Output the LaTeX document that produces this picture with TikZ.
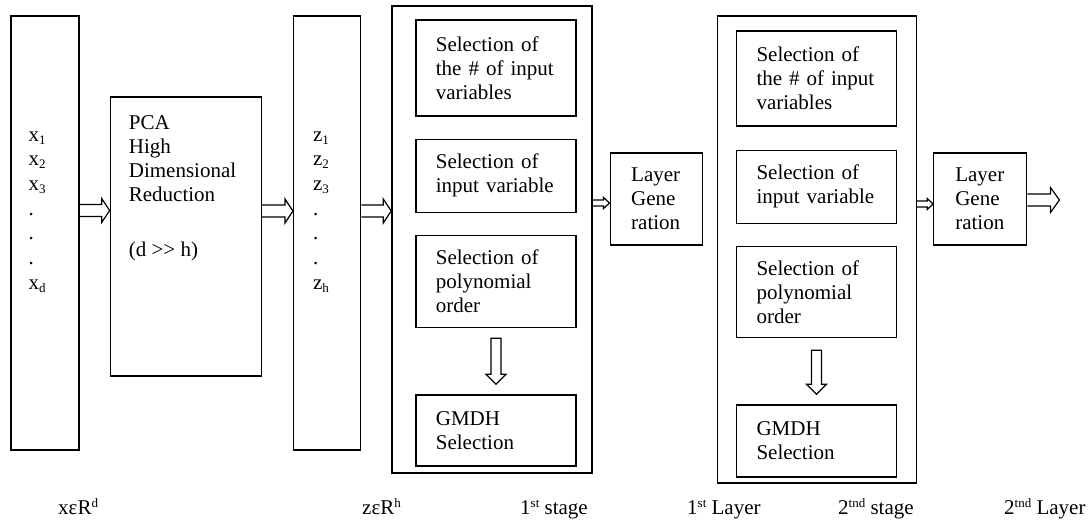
\documentclass[tikz,border=0pt]{standalone}
\usepackage{fontspec}
\setmainfont{Liberation Serif}
\usetikzlibrary{positioning}
\usetikzlibrary{calc}
\newcommand{\lowidx}[1]{\raisebox{-3pt}{\fontsize{13}{13}\selectfont #1}}
\newcommand{\highidx}[1]{\raisebox{7pt}{\fontsize{13}{13}\selectfont #1}}
% hollow block arrows: from, to, shaft half width, head half width, head length
\newcommand{\rightblock}[5]{%
  \draw[hollow] let \p1=#1, \p2=#2 in
    (\x1,\y1-#3) -- (\x2-#5,\y1-#3) -- (\x2-#5,\y1-#4) -- (\x2,\y1)
    -- (\x2-#5,\y1+#4) -- (\x2-#5,\y1+#3) -- (\x1,\y1+#3);}
\newcommand{\downblock}[5]{%
  \draw[hollow] let \p1=#1, \p2=#2 in
    (\x1-#3,\y1) -- (\x1-#3,\y2+#5) -- (\x1-#4,\y2+#5) -- (\x1,\y2)
    -- (\x1+#4,\y2+#5) -- (\x1+#3,\y2+#5) -- (\x1+#3,\y1) -- cycle;}
\tikzset{
    block/.style={
           rectangle,
           draw=black, line width=1.3pt,
           inner sep=0pt,
           },
    selbox/.style={
           rectangle,
           draw=black, line width=1.3pt,
           minimum width=160pt,
           text width=120pt,
           align=left,
           inner sep=0pt,
           font=\fontsize{21}{24}\selectfont,
           },
    genbox/.style={
           rectangle,
           draw=black, line width=1.3pt,
           minimum width=92pt, minimum height=92pt,
           text width=50pt,
           align=left,
           inner sep=0pt,
           font=\fontsize{21}{24}\selectfont,
           },
    frameless/.style={
           %draw=black,
           inner sep=0pt,
           align=left,
           font=\fontsize{21}{24}\selectfont,
           },
    lbl/.style={
           frameless,
           anchor=base west,
           },
    hollow/.style={
           draw=black, line width=1.2pt,
           },
}

\begin{document}
\begin{tikzpicture}[x=1pt, y=-1pt]
	\useasboundingbox (0,0) rectangle (1091,522);

	\node[block, minimum width=68pt, minimum height=434pt] (xbox) at (45,233) {};
	\node[block, right=30pt of xbox, yshift=-3.5pt, minimum width=151pt, minimum height=279pt] (pca) {};
	\node[block, right=31pt of pca, yshift=3.5pt, minimum width=67pt, minimum height=434pt] (zbox) {};
	\node[block, right=30pt of zbox, yshift=-6.5pt, minimum width=200pt, minimum height=467pt] (stage1) {};
	\node[genbox, right=17pt of stage1, yshift=40.5pt] (gen1) {Layer\\Gene\\ration};
	\node[block, right=14pt of gen1, yshift=-50.5pt, minimum width=199pt, minimum height=467pt] (stage2) {};
	\node[genbox, right=16pt of stage2, yshift=50.5pt, minimum width=93pt] (gen2) {Layer\\Gene\\ration};

	% texts of the tall boxes
	\node[frameless, font=\fontsize{21}{24.7}\selectfont, below right=116pt and 18pt of xbox.north west] (xlist) {
		x\lowidx{1}\\x\lowidx{2}\\x\lowidx{3}\\.\\.\\.\\x\lowidx{d}
	};
	\node[frameless, below right=19pt and 19pt of pca.north west] (pcatext) {
		PCA\\High\\Dimensional\\Reduction\\[31pt](d >{}> h)
	};
	\node[frameless, font=\fontsize{21}{24.7}\selectfont, below right=116pt and 20pt of zbox.north west] (zlist) {
		z\lowidx{1}\\z\lowidx{2}\\z\lowidx{3}\\.\\.\\.\\z\lowidx{h}
	};

	% 1st stage
	\node[selbox, minimum height=96pt, below right=14pt and 24pt of stage1.north west] (s1a) {Selection of\\the \# of input\\variables};
	\node[selbox, minimum height=73pt, below=22pt of s1a] (s1b) {Selection of\\input variable};
	\node[selbox, minimum height=92pt, below=22pt of s1b] (s1c) {Selection of\\polynomial\\order};
	\node[selbox, minimum height=71pt, below=66pt of s1c] (s1d) {GMDH\\Selection};

	% 2nd stage
	\node[selbox, minimum height=95pt, below right=15pt and 19pt of stage2.north west] (s2a) {Selection of\\the \# of input\\variables};
	\node[selbox, minimum height=73pt, below=23pt of s2a] (s2b) {Selection of\\input variable};
	\node[selbox, minimum height=91pt, below=22pt of s2b] (s2c) {Selection of\\polynomial\\order};
	\node[selbox, minimum height=72pt, below=66pt of s2c] (s2d) {GMDH\\Selection};

	\coordinate (out) at ([xshift=32pt, yshift=-1pt]gen2.east);

	\rightblock{([yshift=22.5pt]xbox.east)}{(pca.west)}{6pt}{12pt}{8pt}
	\rightblock{([yshift=25.5pt]pca.east)}{(zbox.west)}{6pt}{12pt}{8pt}
	\rightblock{([yshift=22pt]zbox.east)}{(stage1.west)}{6pt}{12pt}{8pt}
	\rightblock{([yshift=36.5pt]stage1.east)}{(gen1.west)}{3pt}{5.5pt}{6pt}
	\rightblock{([yshift=45.5pt]stage2.east)}{(gen2.west)}{3pt}{5.5pt}{6pt}
	\rightblock{([yshift=-1pt]gen2.east)}{(out)}{6pt}{12.5pt}{9pt}
	\downblock{([yshift=-10pt]s1c.south)}{([yshift=10pt]s1d.north)}{5pt}{10pt}{10pt}
	\downblock{([yshift=-12pt]s2c.south)}{([yshift=10pt]s2d.north)}{5pt}{10pt}{10pt}

	% labels below
	\node[lbl] (xlbl) at (58,514) {xεR\highidx{d}};
	\node[lbl] (zlbl) at (362,514) {zεR\highidx{h}};
	\node[lbl] (st1lbl) at (520,514) {1\highidx{st} stage};
	\node[lbl] (ly1lbl) at (687,514) {1\highidx{st} Layer};
	\node[lbl] (st2lbl) at (838,514) {2\highidx{tnd} stage};
	\node[lbl] (ly2lbl) at (1004,514) {2\highidx{tnd} Layer};
\end{tikzpicture}
\end{document}
